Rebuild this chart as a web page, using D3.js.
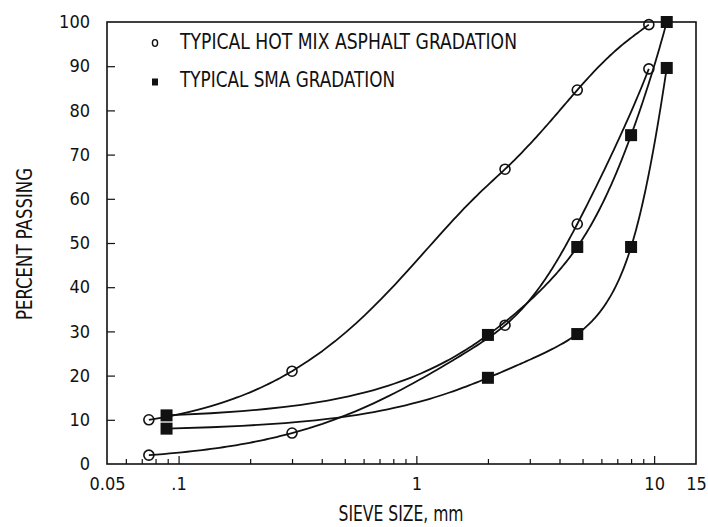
<!DOCTYPE html>
<html>
<head>
<meta charset="utf-8">
<script src="https://cdn.jsdelivr.net/npm/d3@7"></script>
<style>
  body { margin: 0; background: #fff; }
  svg text { font-family: "Liberation Sans Narrow", "DejaVu Sans Condensed", "Roboto Condensed", sans-serif; fill: #111; }
</style>
</head>
<body>
<svg id="chart" width="708" height="527"></svg>
<script>
// Sieve sizes (mm) and percent passing
const hmaSieves = [0.075, 0.3, 2.36, 4.75, 9.5];
const hmaUpper = [10, 21, 66.7, 84.6, 99.4];
const hmaLower = [2, 7, 31.4, 54.3, 89.4];

const smaSieves = [0.089, 2, 4.75, 8, 11.3];
const smaUpper = [11, 29.2, 49.1, 74.4, 100];
const smaLower = [8, 19.5, 29.4, 49.1, 89.6];

const yTicks = [0, 10, 20, 30, 40, 50, 60, 70, 80, 90, 100];
const xLabels = [0.05, 0.1, 1, 10, 15];
const xLabelText = ['0.05', '.1', '1', '10', '15'];
const xMajor = [0.1, 1, 10];
const xMinor = [0.06, 0.07, 0.08, 0.09, 0.2, 0.3, 0.4, 0.5, 0.6, 0.7, 0.8, 0.9,
                2, 3, 4, 5, 6, 7, 8, 9];

const legendLabels = ['TYPICAL HOT MIX ASPHALT GRADATION', 'TYPICAL SMA GRADATION'];

// Natural cubic spline of y as a function of x (a d3 curve factory)
function curveNaturalX(context) {
    let xs, ys;
    return {
        areaStart() {}, areaEnd() {},
        lineStart() { xs = []; ys = []; },
        point(px, py) { xs.push(+px); ys.push(+py); },
        lineEnd() {
            const n = xs.length;
            if (!n) return;
            context.moveTo(xs[0], ys[0]);
            if (n < 3) { if (n === 2) context.lineTo(xs[1], ys[1]); return; }
            const h = d3.range(n - 1).map(i => xs[i + 1] - xs[i]);
            // second derivatives, natural ends
            const a = new Array(n).fill(0), b = new Array(n).fill(1), c = new Array(n).fill(0), r = new Array(n).fill(0);
            for (let i = 1; i < n - 1; i++) {
                a[i] = h[i - 1]; b[i] = 2 * (h[i - 1] + h[i]); c[i] = h[i];
                r[i] = 6 * ((ys[i + 1] - ys[i]) / h[i] - (ys[i] - ys[i - 1]) / h[i - 1]);
            }
            for (let i = 1; i < n; i++) {
                const m = a[i] / b[i - 1];
                b[i] -= m * c[i - 1]; r[i] -= m * r[i - 1];
            }
            const M = new Array(n).fill(0);
            M[n - 1] = r[n - 1] / b[n - 1];
            for (let i = n - 2; i >= 0; i--) M[i] = (r[i] - c[i] * M[i + 1]) / b[i];
            for (let i = 0; i < n - 1; i++) {
                const s = (ys[i + 1] - ys[i]) / h[i];
                const d0 = s - h[i] * (2 * M[i] + M[i + 1]) / 6;
                const d1 = s + h[i] * (M[i] + 2 * M[i + 1]) / 6;
                context.bezierCurveTo(
                    xs[i] + h[i] / 3, ys[i] + d0 * h[i] / 3,
                    xs[i + 1] - h[i] / 3, ys[i + 1] - d1 * h[i] / 3,
                    xs[i + 1], ys[i + 1]);
            }
        }
    };
}

(function() {
    const svg = d3.select('#chart');
    const margin = { left: 107, top: 22, right: 12, bottom: 63 };
    const width = 708, height = 527;

    const x = d3.scaleLog().domain([0.05, 15]).range([margin.left, width - margin.right]);
    const y = d3.scaleLinear().domain([0, 100]).range([height - margin.bottom, margin.top]);

    const ink = '#111';

    // Frame
    svg.append('rect')
        .attr('x', x.range()[0])
        .attr('y', y.range()[1])
        .attr('width', x.range()[1] - x.range()[0])
        .attr('height', y.range()[0] - y.range()[1])
        .attr('fill', 'none')
        .attr('stroke', ink)
        .attr('stroke-width', 1.6);

    // X ticks (inside), minor and major
    const xTickG = svg.append('g')
        .attr('transform', `translate(0,${y(0)})`)
        .call(d3.axisBottom(x).tickValues(xMinor).tickSizeInner(-5).tickSizeOuter(0).tickFormat(''));
    const xMajorG = svg.append('g')
        .attr('transform', `translate(0,${y(0)})`)
        .call(d3.axisBottom(x).tickValues(xMajor).tickSizeInner(-8).tickSizeOuter(0).tickFormat(''));
    [xTickG, xMajorG].forEach(g => {
        g.select('.domain').remove();
        g.selectAll('line').attr('stroke', ink).attr('stroke-width', 1.2);
    });

    // X labels
    const xLabG = svg.append('g')
        .attr('transform', `translate(0,${y(0)})`)
        .call(d3.axisBottom(x).tickValues(xLabels).tickSize(0).tickPadding(13)
            .tickFormat((d, i) => xLabelText[i]));
    xLabG.select('.domain').remove();
    xLabG.selectAll('text').attr('font-size', 18).attr('fill', ink);

    // Y axis (inside ticks)
    const yG = svg.append('g')
        .attr('transform', `translate(${x.range()[0]},0)`)
        .call(d3.axisLeft(y).tickValues(yTicks).tickSizeInner(-8).tickSizeOuter(0).tickPadding(17));
    yG.select('.domain').remove();
    yG.selectAll('line').attr('stroke', ink).attr('stroke-width', 1.2)
        .filter(d => d === 0 || d === 100).remove();
    yG.selectAll('text').attr('font-size', 18).attr('fill', ink);

    // The original plotter smoothed the curves in linear sieve size, then drew
    // them on the log axis. Build the curve on a linear x scale and warp the
    // path onto the log scale while it is being drawn.
    const xLin = d3.scaleLinear().domain(x.domain()).range([0, 1000]);
    const warp = px => x(xLin.invert(px));

    function warpContext(target) {
        let cx = 0, cy = 0;
        const steps = 40;
        return {
            moveTo(a, b) { cx = a; cy = b; target.moveTo(warp(a), b); },
            lineTo(a, b) {
                for (let k = 1; k <= steps; k++) {
                    const t = k / steps;
                    target.lineTo(warp(cx + (a - cx) * t), cy + (b - cy) * t);
                }
                cx = a; cy = b;
            },
            bezierCurveTo(x1, y1, x2, y2, x3, y3) {
                for (let k = 1; k <= steps; k++) {
                    const t = k / steps, u = 1 - t;
                    const bx = u * u * u * cx + 3 * u * u * t * x1 + 3 * u * t * t * x2 + t * t * t * x3;
                    const by = u * u * u * cy + 3 * u * u * t * y1 + 3 * u * t * t * y2 + t * t * t * y3;
                    target.lineTo(warp(bx), by);
                }
                cx = x3; cy = y3;
            },
            closePath() { target.closePath(); }
        };
    }

    const series = [
        { sieves: hmaSieves, values: hmaUpper, marker: 'circle' },
        { sieves: hmaSieves, values: hmaLower, marker: 'circle' },
        { sieves: smaSieves, values: smaUpper, marker: 'square' },
        { sieves: smaSieves, values: smaLower, marker: 'square' }
    ];

    series.forEach(s => {
        const pts = s.sieves.map((v, i) => [v, s.values[i]]);
        const p = d3.path();
        d3.line()
            .x(d => xLin(d[0]))
            .y(d => y(d[1]))
            .curve(curveNaturalX)
            .context(warpContext(p))(pts);
        svg.append('path')
            .attr('d', p.toString())
            .attr('fill', 'none')
            .attr('stroke', ink)
            .attr('stroke-width', 1.8)
            .attr('stroke-linejoin', 'round');
    });

    series.forEach(s => {
        const pts = s.sieves.map((v, i) => [v, s.values[i]]);
        if (s.marker === 'circle') {
            svg.append('g').selectAll('circle')
                .data(pts).enter().append('circle')
                .attr('cx', d => x(d[0]))
                .attr('cy', d => y(d[1]))
                .attr('r', 5)
                .attr('fill', 'none')
                .attr('stroke', ink)
                .attr('stroke-width', 1.6);
        } else {
            svg.append('g').selectAll('rect')
                .data(pts).enter().append('rect')
                .attr('x', d => x(d[0]) - 6)
                .attr('y', d => y(d[1]) - 6)
                .attr('width', 12)
                .attr('height', 12)
                .attr('fill', ink);
        }
    });

    // Legend
    const lg = svg.append('g');
    lg.append('ellipse')
        .attr('cx', 155).attr('cy', 43).attr('rx', 2.6).attr('ry', 3.4)
        .attr('fill', 'none').attr('stroke', ink).attr('stroke-width', 1.4);
    lg.append('rect')
        .attr('x', 152).attr('y', 78.5).attr('width', 6).attr('height', 7)
        .attr('fill', ink);
    const legendLen = [337, 215];
    const legendBase = [49, 87];
    legendLabels.forEach((t, i) => {
        lg.append('text')
            .attr('x', 180).attr('y', legendBase[i])
            .attr('font-size', 22)
            .attr('textLength', legendLen[i])
            .attr('lengthAdjust', 'spacingAndGlyphs')
            .text(t);
    });

    // Axis titles
    svg.append('text')
        .attr('x', 401).attr('y', 521)
        .attr('text-anchor', 'middle')
        .attr('font-size', 22)
        .attr('textLength', 125)
        .attr('lengthAdjust', 'spacingAndGlyphs')
        .text('SIEVE SIZE, mm');

    svg.append('text')
        .attr('transform', 'translate(32,244) rotate(-90)')
        .attr('text-anchor', 'middle')
        .attr('font-size', 22)
        .attr('textLength', 152)
        .attr('lengthAdjust', 'spacingAndGlyphs')
        .text('PERCENT PASSING');
})();
</script>
</body>
</html>
